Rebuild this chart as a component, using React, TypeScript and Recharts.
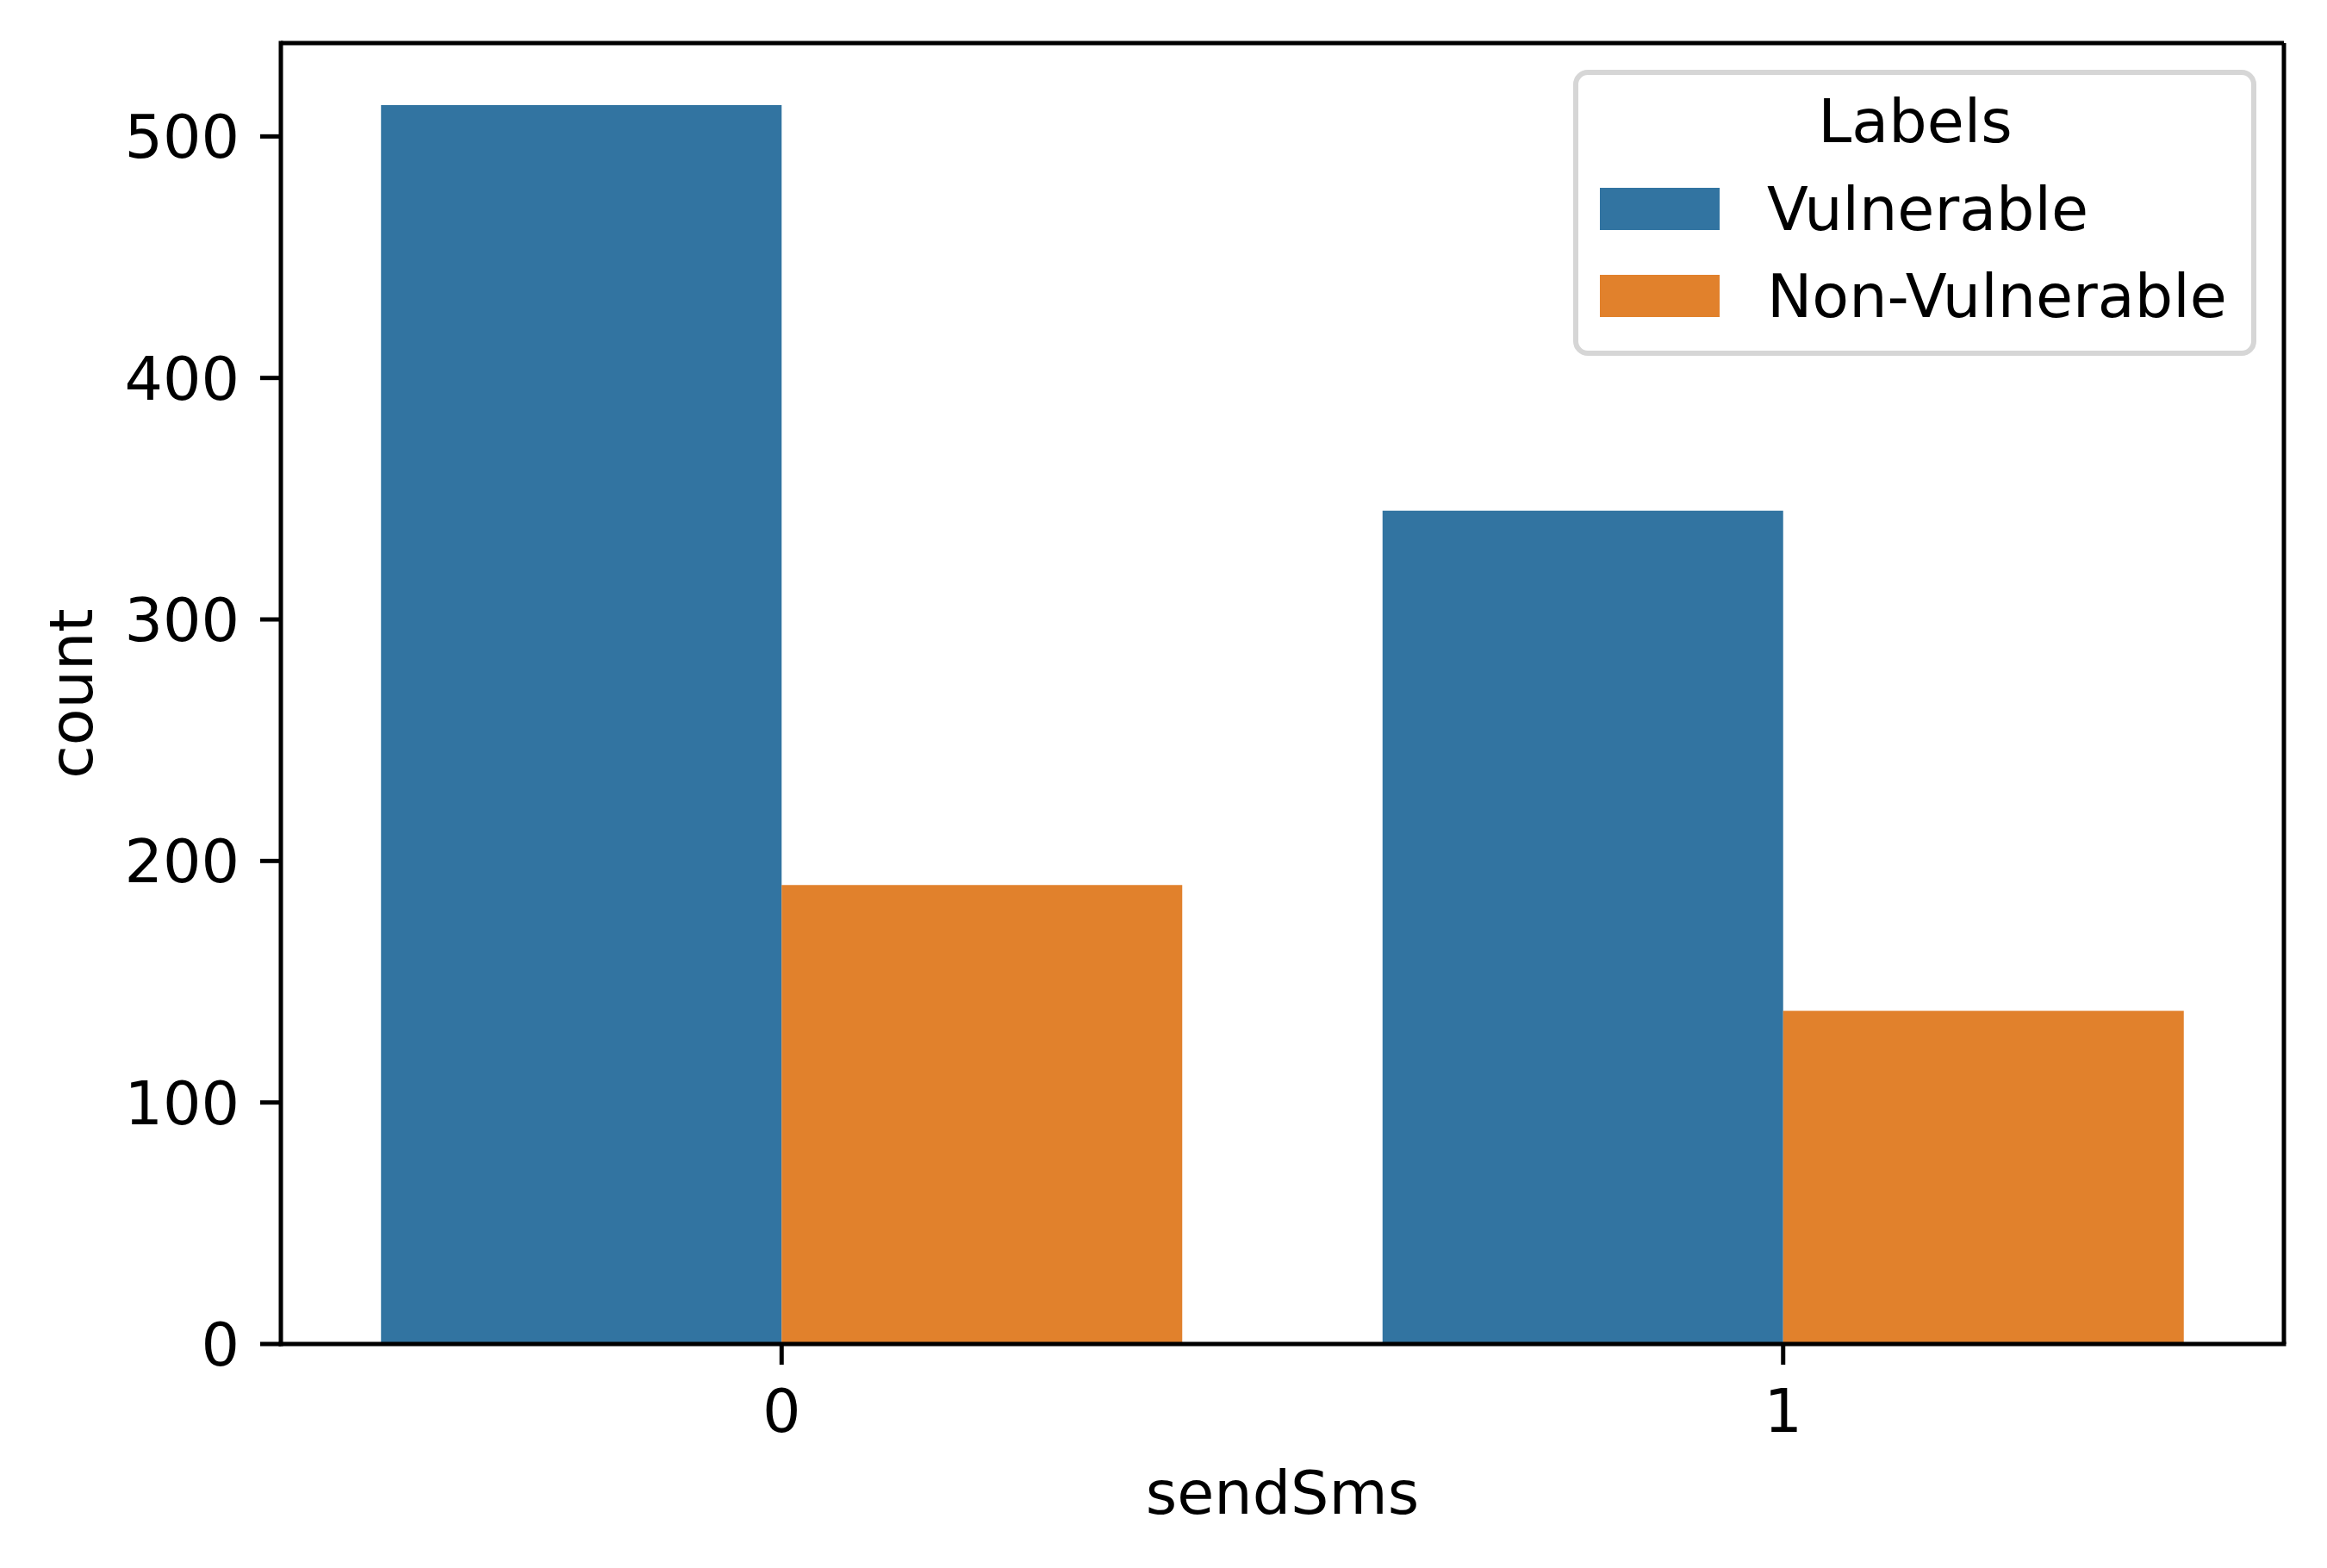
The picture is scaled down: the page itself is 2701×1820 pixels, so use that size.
import React from "react";
import { Bar, BarChart, CartesianGrid, Legend, XAxis, YAxis } from "recharts";

// values
const categories = ["0", "1"];
const vulnerable = [513, 345];
const nonVulnerable = [190, 138];
const seriesNames = ["Vulnerable", "Non-Vulnerable"];
const seriesColors = ["#3274a1", "#e1812c"];
const yTicks = [0, 100, 200, 300, 400, 500];
const yMax = 538.65;

const data = categories.map((c, i) => ({
	sendSms: c,
	[seriesNames[0]]: vulnerable[i],
	[seriesNames[1]]: nonVulnerable[i],
}));

const FONT = "'DejaVu Sans', 'Liberation Sans', sans-serif";
const FS = 70;

const axisStyle = { stroke: "#000", strokeWidth: 5, strokeLinecap: "square" as const };
const tickLineStyle = { stroke: "#000", strokeWidth: 5 };
const tickStyle = { fill: "#000", fontSize: FS, fontFamily: FONT };

const XLabel = (props: any) => {
	const vb = props.viewBox || { x: 326, y: 1560, width: 2325 };
	return (
		<text
			x={vb.x + vb.width / 2}
			y={vb.y + 197}
			textAnchor="middle"
			fontSize={FS}
			fontFamily={FONT}
			fill="#000"
		>
			sendSms
		</text>
	);
};

const YLabel = (props: any) => {
	const vb = props.viewBox || { x: 0, y: 50, height: 1510 };
	const x = vb.x + 107;
	const y = vb.y + vb.height / 2;
	return (
		<text
			x={x}
			y={y}
			transform={`rotate(-90, ${x}, ${y})`}
			textAnchor="middle"
			fontSize={FS}
			fontFamily={FONT}
			fill="#000"
		>
			count
		</text>
	);
};

const LegendBox = (props: any) => {
	const payload = props.payload || [];
	// keep the series order, not the sorted legend payload
	const items = seriesNames.map((n, i) => {
		const p = payload.find((e: any) => e.value === n);
		return { value: n, color: (p && p.color) || seriesColors[i] };
	});
	return (
		<svg width={805} height={345} style={{ display: "block" }}>
			<rect
				x={9}
				y={9}
				width={787}
				height={326}
				rx={14}
				ry={14}
				fill="#fff"
				fillOpacity={0.8}
				stroke="#d6d6d6"
				strokeWidth={6}
			/>
			<text x={403} y={90} textAnchor="middle" fontSize={FS} fontFamily={FONT} fill="#000">
				Labels
			</text>
			{items.map((item, i) => (
				<g key={item.value}>
					<rect x={37} y={143 + i * 101} width={139} height={49} fill={item.color} />
					<text x={231} y={192 + i * 101} fontSize={FS} fontFamily={FONT} fill="#000">
						{item.value}
					</text>
				</g>
			))}
		</svg>
	);
};

// top and right spines, taken from the plot area
const topSpine = ({ offset }: any) => [offset.top];
const rightSpine = ({ offset }: any) => [offset.left + offset.width];

export default function App() {
	return (
		<div
			style={{
				position: "absolute",
				left: 0,
				top: 0,
				width: 2701,
				height: 1820,
				background: "#fff",
			}}
		>
			<BarChart
				width={2701}
				height={1820}
				data={data}
				margin={{ top: 50, right: 50, bottom: 0, left: 0 }}
				barCategoryGap="10%"
				barGap={0}
			>
				<CartesianGrid
					stroke="#000"
					strokeWidth={5}
					fill="none"
					syncWithTicks={false}
					horizontalCoordinatesGenerator={topSpine}
					verticalCoordinatesGenerator={rightSpine}
				/>
				<XAxis
					dataKey="sendSms"
					height={260}
					tickSize={24}
					tickMargin={28}
					axisLine={axisStyle}
					tickLine={tickLineStyle}
					tick={tickStyle}
					label={{ content: XLabel }}
				/>
				<YAxis
					type="number"
					width={326}
					domain={[0, yMax]}
					ticks={yTicks}
					tickSize={24}
					tickMargin={24}
					axisLine={axisStyle}
					tickLine={tickLineStyle}
					tick={tickStyle}
					label={{ content: YLabel }}
				/>
				<Legend
					layout="horizontal"
					verticalAlign="middle"
					align="center"
					content={LegendBox}
					wrapperStyle={{ position: "absolute", left: 1820, top: 75, width: 805, height: 345 }}
				/>
				{seriesNames.map((name, i) => (
					<Bar
						key={name}
						dataKey={name}
						fill={seriesColors[i]}
						isAnimationActive={false}
					/>
				))}
			</BarChart>
		</div>
	);
}
